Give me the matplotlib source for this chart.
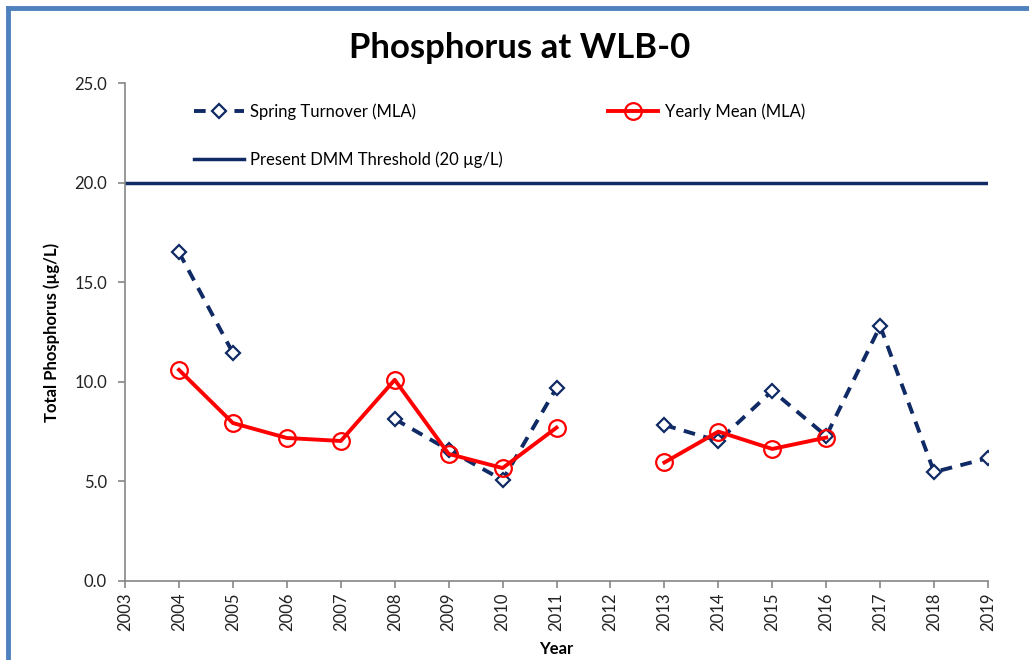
import numpy as np
import matplotlib.pyplot as plt
from matplotlib.lines import Line2D

plt.rcParams['font.family'] = ['Lato', 'DejaVu Sans']

# Data
years = [2003, 2004, 2005, 2006, 2007, 2008, 2009, 2010, 2011,
         2012, 2013, 2014, 2015, 2016, 2017, 2018, 2019]
spring_turnover = [np.nan, 16.5, 11.45, np.nan, np.nan, 8.13, 6.58, 5.07, 9.7,
                   np.nan, 7.83, 7.03, 9.55, 7.28, 12.8, 5.47, 6.17]
yearly_mean = [np.nan, 10.6, 7.93, 7.18, 7.03, 10.1, 6.38, 5.67, 7.7,
               np.nan, 5.95, 7.5, 6.63, 7.2, np.nan, np.nan, np.nan]
threshold = 20.0

navy = '#0F2A64'
red = '#FF0000'
grey = '#868686'

fig = plt.figure(figsize=(10.29, 6.6), dpi=100)

# Excel-style chart frame (only top and left edges visible)
fig.add_artist(Line2D([0.0075, 0.0075], [0, 0.988], color='#4F81BD', lw=3.5))
fig.add_artist(Line2D([0.0075, 1.0], [0.988, 0.988], color='#4F81BD', lw=3.5))

ax = fig.add_axes([0.1215, 0.1197, 0.8387, 0.7545])
x = np.arange(len(years))

ax.axhline(threshold, color=navy, lw=2.5, zorder=2)
ax.plot(x, spring_turnover, color=navy, lw=2.8, ls=(0, (3, 2.2)),
        marker='D', ms=7, mfc='white', mec=navy, mew=1.6, zorder=3)
ax.plot(x, yearly_mean, color=red, lw=2.8,
        marker='o', ms=12, mfc='none', mec=red, mew=1.6, zorder=4)

ax.set_xlim(0, len(years) - 1)
ax.set_ylim(0, 25)
ax.set_yticks(np.arange(0, 25.1, 5))
ax.set_yticklabels(['%.1f' % v for v in np.arange(0, 25.1, 5)], fontsize=12)
ax.set_xticks(x)
ax.set_xticklabels([str(y) for y in years], rotation=90, fontsize=12)

for s in ['top', 'right']:
    ax.spines[s].set_visible(False)
for s in ['left', 'bottom']:
    ax.spines[s].set_color(grey)
    ax.spines[s].set_linewidth(1.2)
ax.tick_params(axis='both', colors=grey, length=5, width=1.2, labelcolor='#222222')
ax.tick_params(axis='y', pad=8)

ax.set_xlabel('Year', fontsize=12, fontweight='bold', labelpad=7)
ax.set_ylabel('Total Phosphorus (\u00b5g/L)', fontsize=12, fontweight='bold', labelpad=10)

fig.text(0.505, 0.928, 'Phosphorus at WLB-0', ha='center', va='center',
         fontsize=25, fontweight='bold')

# Legend
h1 = Line2D([], [], color=navy, lw=2.8, ls=(0, (3, 2.2)), marker='D', ms=7,
            mfc='white', mec=navy, mew=1.6)
h2 = Line2D([], [], color=red, lw=2.8, marker='o', ms=12, mfc='none', mec=red, mew=1.6)
h3 = Line2D([], [], color=navy, lw=2.5)
ax.legend([h1, h3, h2],
          ['Spring Turnover (MLA)', 'Present DMM Threshold (20 \u00b5g/L)', 'Yearly Mean (MLA)'],
          ncol=2, loc='upper left', bbox_to_anchor=(0.062, 0.99), frameon=False,
          fontsize=12, handlelength=3, handletextpad=0.4, columnspacing=6.3,
          labelspacing=1.9)

fig.savefig('out.png', dpi=100)
